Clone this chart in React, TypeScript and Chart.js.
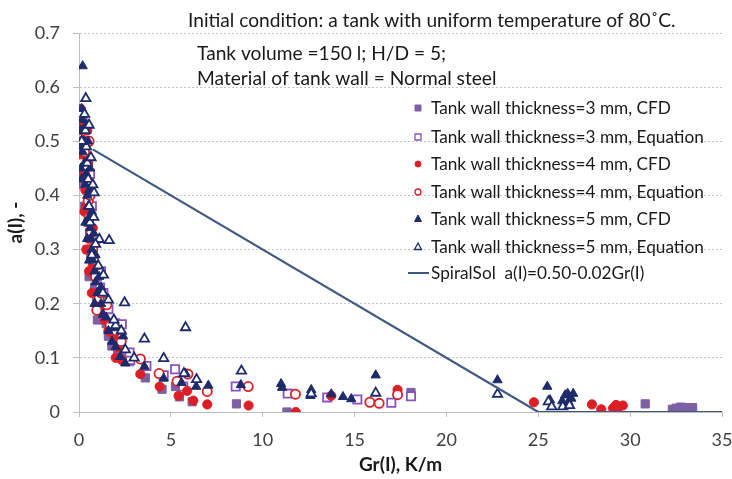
import React, { useEffect, useRef } from "react";
import { Chart, registerables } from "chart.js";

Chart.register(...registerables);

type P = { x: number; y: number };
const pts = (a: number[][]): P[] => a.map(([x, y]) => ({ x, y }));

const xTicks = [0, 5, 10, 15, 20, 25, 30, 35];
const yTicks = [0, 0.1, 0.2, 0.3, 0.4, 0.5, 0.6, 0.7];

const t3CFD = [
  [0.15, 0.55], [0.2, 0.52], [0.25, 0.5], [0.3, 0.47], [0.35, 0.44], [0.4, 0.41], [0.45, 0.38], [0.5, 0.35],
  [0.6, 0.32], [0.65, 0.29], [0.75, 0.26], [0.85, 0.23], [0.95, 0.21], [1.1, 0.19], [1.3, 0.17], [1.48, 0.163],
  [1.6, 0.14], [1.79, 0.122], [2.1, 0.11], [2.75, 0.093], [3.61, 0.063], [4.52, 0.042], [5.25, 0.047],
  [5.47, 0.028], [6.16, 0.019], [8.57, 0.015], [11.32, 0.0], [18.07, 0.036], [30.82, 0.015], [32.3, 0.005],
  [32.5, 0.007], [32.75, 0.009], [32.97, 0.008], [33.4, 0.008],
  [0.1, 0.5], [0.05, 0.45], [0.2, 0.42], [0.3, 0.38], [0.45, 0.3], [0.55, 0.25], [1.0, 0.17], [2.4, 0.1],
];
const t3Eq = [
  [0.2, 0.54], [0.3, 0.5], [0.35, 0.46], [0.4, 0.43], [0.5, 0.39], [0.55, 0.36], [0.6, 0.33], [0.7, 0.3],
  [0.8, 0.27], [0.97, 0.25], [1.15, 0.23], [1.33, 0.22], [1.97, 0.164], [2.33, 0.162], [2.3, 0.14],
  [2.79, 0.096], [2.75, 0.11], [3.67, 0.085], [4.61, 0.068], [5.23, 0.079], [5.67, 0.047], [8.53, 0.047],
  [11.36, 0.034], [13.51, 0.027], [15.15, 0.023], [17.0, 0.017], [18.07, 0.029],
  [0.45, 0.5], [0.6, 0.44], [0.7, 0.38], [0.9, 0.32], [1.2, 0.26], [1.6, 0.19],
];
const t4CFD = [
  [0.1, 0.56], [0.15, 0.53], [0.2, 0.5], [0.25, 0.47], [0.3, 0.44], [0.35, 0.41], [0.4, 0.38], [0.5, 0.35],
  [0.55, 0.32], [0.65, 0.3], [0.75, 0.27], [0.85, 0.25], [1.0, 0.22], [1.19, 0.196], [1.4, 0.17],
  [1.88, 0.142], [2.1, 0.12], [2.33, 0.096], [3.34, 0.07], [4.39, 0.047], [5.42, 0.03], [5.89, 0.039],
  [6.22, 0.021], [6.98, 0.014], [9.23, 0.012], [11.8, 0.0], [13.73, 0.03], [17.34, 0.041], [24.76, 0.018],
  [27.92, 0.014], [28.43, 0.005], [29.07, 0.007], [29.23, 0.013], [29.4, 0.01], [29.6, 0.012],
  [0.05, 0.47], [0.1, 0.44], [0.45, 0.52], [0.5, 0.46], [0.6, 0.42], [0.3, 0.37], [0.75, 0.34], [0.4, 0.3],
  [0.55, 0.26], [0.95, 0.27], [0.7, 0.22], [1.1, 0.2], [1.6, 0.15], [2.2, 0.13], [2.0, 0.1],
];
const t4Eq = [
  [0.15, 0.55], [0.25, 0.52], [0.3, 0.48], [0.35, 0.45], [0.45, 0.42], [0.5, 0.39], [0.55, 0.36], [0.65, 0.33],
  [0.7, 0.3], [0.8, 0.28], [0.9, 0.25], [0.97, 0.188], [1.1, 0.21], [1.51, 0.198], [2.0, 0.15],
  [3.34, 0.098], [4.36, 0.071], [5.34, 0.057], [5.93, 0.07], [6.98, 0.038], [9.21, 0.047], [11.78, 0.033],
  [15.83, 0.018], [16.34, 0.016], [17.34, 0.032],
  [0.55, 0.5], [0.1, 0.46], [0.6, 0.4], [0.75, 0.3], [1.2, 0.22], [1.7, 0.16], [2.3, 0.13],
];
const t5CFD = [
  [0.2, 0.639], [0.15, 0.56], [0.2, 0.54], [0.25, 0.52], [0.3, 0.5], [0.2, 0.48], [0.3, 0.46], [0.4, 0.44],
  [0.35, 0.42], [0.45, 0.4], [0.5, 0.38], [0.55, 0.36], [0.6, 0.34], [0.65, 0.32], [0.7, 0.3], [0.75, 0.28],
  [0.85, 0.26], [0.9, 0.24], [1.0, 0.22], [1.2, 0.2], [1.48, 0.175], [1.6, 0.15], [1.8, 0.13], [2.24, 0.102],
  [2.52, 0.09], [3.56, 0.084], [4.61, 0.062], [5.58, 0.054], [5.8, 0.071], [6.38, 0.047], [7.04, 0.049],
  [8.81, 0.05], [11.0, 0.052], [11.05, 0.045], [12.64, 0.041], [12.6, 0.03], [13.73, 0.033], [14.37, 0.028],
  [14.82, 0.024], [16.15, 0.068], [22.78, 0.059], [25.49, 0.047], [25.64, 0.022], [26.3, 0.02],
  [26.46, 0.031], [26.6, 0.034], [26.9, 0.034], [26.64, 0.019], [26.8, 0.025],
  [0.1, 0.45], [0.15, 0.43], [0.6, 0.45], [0.5, 0.5], [0.4, 0.53], [0.55, 0.41], [0.7, 0.37], [0.8, 0.33],
  [0.9, 0.29], [1.1, 0.25], [1.2, 0.23], [0.35, 0.35], [0.45, 0.32], [0.55, 0.28], [0.85, 0.2], [1.3, 0.18],
  [2.0, 0.12], [2.4, 0.14], [1.9, 0.155], [0.1, 0.52], [0.05, 0.49],
];
const t5Eq = [
  [0.37, 0.579], [0.3, 0.55], [0.35, 0.52], [0.4, 0.49], [0.45, 0.46], [0.5, 0.43], [0.82, 0.405],
  [0.55, 0.38], [0.6, 0.35], [1.11, 0.319], [1.64, 0.317], [0.7, 0.29], [1.33, 0.253], [1.6, 0.207],
  [2.48, 0.202], [5.8, 0.156], [3.56, 0.135], [2.0, 0.16], [2.52, 0.115], [4.61, 0.099], [8.84, 0.076],
  [5.71, 0.071], [6.4, 0.06], [12.64, 0.034], [16.15, 0.035], [22.78, 0.033], [25.55, 0.019],
  [25.73, 0.01], [26.33, 0.01], [26.7, 0.012],
  [0.55, 0.53], [0.65, 0.47], [0.15, 0.5], [0.75, 0.42], [0.8, 0.36], [0.9, 0.31], [1.05, 0.27], [1.3, 0.22],
  [1.9, 0.17], [2.3, 0.15], [3.0, 0.1],
];
const spiralSol = [
  [0.75, 0.485], [25, 0], [35, 0],
];

const seriesLabels = [
  "Tank wall thickness=3 mm, CFD",
  "Tank wall thickness=3 mm, Equation",
  "Tank wall thickness=4 mm, CFD",
  "Tank wall thickness=4 mm, Equation",
  "Tank wall thickness=5 mm, CFD",
  "Tank wall thickness=5 mm, Equation",
  "SpiralSol  a(I)=0.50-0.02Gr(I)",
];
const notes = [
  "Initial condition: a tank with uniform temperature of 80˚C.",
  "Tank volume =150 l; H/D = 5;",
  "Material of tank wall = Normal steel",
];

const PURPLE = "#7d5fa3";
const PURPLE_O = "#8a52c0";
const RED = "#dc1f26";
const NAVY = "#1e2b6b";
const LINE = "#3f5a80";
const FONT = "Lato, 'Open Sans', sans-serif";

const markerDefs = [
  { style: "rect", fill: PURPLE, stroke: PURPLE, open: false },
  { style: "rect", fill: "#ffffff", stroke: PURPLE_O, open: true },
  { style: "circle", fill: RED, stroke: RED, open: false },
  { style: "circle", fill: "#ffffff", stroke: RED, open: true },
  { style: "triangle", fill: NAVY, stroke: NAVY, open: false },
  { style: "triangle", fill: "#ffffff", stroke: NAVY, open: true },
];

function fitSize(ctx: CanvasRenderingContext2D, text: string, target: number) {
  ctx.font = `100px ${FONT}`;
  const w = ctx.measureText(text).width;
  return (100 * target) / w;
}

const overlay = {
  id: "overlay",
  afterDraw(chart: any) {
    const ctx = chart.ctx as CanvasRenderingContext2D;
    ctx.save();
    const sNote = fitSize(ctx, notes[0], 488);
    const sLeg = fitSize(ctx, seriesLabels[1], 273);
    ctx.fillStyle = "#1a1a1a";
    ctx.font = `${sNote}px ${FONT}`;
    ctx.textAlign = "left";
    ctx.textBaseline = "middle";
    ctx.fillText(notes[0], 188, 21);
    ctx.fillText(notes[1], 197, 54);
    ctx.fillText(notes[2], 197, 79);

    ctx.font = `${sLeg}px ${FONT}`;
    const rows = [108, 137, 164, 192, 219, 247, 273];
    const mx = 418;
    rows.forEach((ry, i) => {
      ctx.fillStyle = "#1a1a1a";
      ctx.fillText(seriesLabels[i], 431, ry);
      if (i < 6) {
        const m = markerDefs[i];
        ctx.beginPath();
        if (m.style === "rect") {
          ctx.rect(mx - 3, ry - 3, 6, 6);
        } else if (m.style === "circle") {
          ctx.arc(mx, ry, 3, 0, Math.PI * 2);
        } else {
          ctx.moveTo(mx, ry - 4);
          ctx.lineTo(mx + 3.5, ry + 2.5);
          ctx.lineTo(mx - 3.5, ry + 2.5);
          ctx.closePath();
        }
        ctx.fillStyle = m.fill;
        ctx.fill();
        ctx.lineWidth = m.open ? 1.3 : 1;
        ctx.strokeStyle = m.stroke;
        ctx.stroke();
      } else {
        ctx.beginPath();
        ctx.moveTo(408, ry);
        ctx.lineTo(429, ry);
        ctx.strokeStyle = LINE;
        ctx.lineWidth = 2;
        ctx.stroke();
      }
    });
    ctx.restore();
  },
};

export default function App() {
  const ref = useRef<HTMLCanvasElement | null>(null);
  useEffect(() => {
    if (!ref.current) return;
    const data = [t3CFD, t3Eq, t4CFD, t4Eq, t5CFD, t5Eq];
    const radii = [5.8, 5.8, 4.6, 4.6, 5.4, 5.4];
    const datasets: any[] = data.map((d, i) => ({
      type: "scatter",
      label: seriesLabels[i],
      data: pts(d),
      pointStyle: markerDefs[i].style,
      pointRadius: radii[i],
      pointBackgroundColor: markerDefs[i].fill,
      pointBorderColor: markerDefs[i].stroke,
      pointBorderWidth: markerDefs[i].open ? 1.8 : 1,
      showLine: false,
      order: 7 - i,
    }));
    datasets.push({
      type: "line",
      label: seriesLabels[6],
      data: pts(spiralSol),
      borderColor: LINE,
      borderWidth: 2.2,
      pointRadius: 0,
      fill: false,
      order: 0,
    });
    const chart = new Chart(ref.current, {
      type: "scatter",
      data: { datasets },
      options: {
        responsive: false,
        animation: false,
        events: [],
        layout: { padding: { left: 0, top: 33, right: 10, bottom: 0 } },
        plugins: { legend: { display: false }, tooltip: { enabled: false } },
        scales: {
          x: {
            type: "linear",
            min: 0,
            max: 35,
            afterFit: (s: any) => { s.height = 67; s.paddingRight = 0; s.paddingLeft = 0; },
            afterBuildTicks: (s: any) => { s.ticks = xTicks.map((v) => ({ value: v })); },
            grid: { drawOnChartArea: false, drawTicks: true, tickLength: 5, color: "#bdbdbd" },
            border: { display: true, color: "#bdbdbd", width: 1 },
            ticks: { padding: 12, color: "#404040", font: { family: FONT, size: 18 }, maxRotation: 0 },
            title: {
              display: true,
              text: "Gr(I), K/m",
              color: "#1a1a1a",
              font: { family: FONT, size: 19, weight: "bold" },
              padding: { top: 0, bottom: 3 },
            },
          },
          y: {
            type: "linear",
            min: 0,
            max: 0.7,
            afterFit: (s: any) => { s.width = 79; },
            afterBuildTicks: (s: any) => { s.ticks = yTicks.map((v) => ({ value: v })); },
            grid: {
              drawOnChartArea: true,
              drawTicks: true,
              tickLength: 6,
              color: "#c4c4c4",
              tickColor: "#bdbdbd",
              tickBorderDash: [],
            },
            border: { display: true, color: "#bdbdbd", width: 1, dash: [2, 2] },
            ticks: {
              padding: 13,
              color: "#404040",
              font: { family: FONT, size: 18 },
              callback: (v: any) => (v === 0 ? "0" : Number(v).toFixed(1)),
            },
            title: {
              display: true,
              text: "a(I), -",
              color: "#1a1a1a",
              font: { family: FONT, size: 19, weight: "bold" },
              padding: { top: 4, bottom: 0 },
            },
          },
        },
      },
      plugins: [overlay],
    } as any);
    return () => chart.destroy();
  }, []);
  return (
    <div style={{ position: "fixed", left: 0, top: 0, width: 732, height: 479, background: "#fff" }}>
      <canvas ref={ref} width={732} height={479} style={{ display: "block" }} />
    </div>
  );
}
